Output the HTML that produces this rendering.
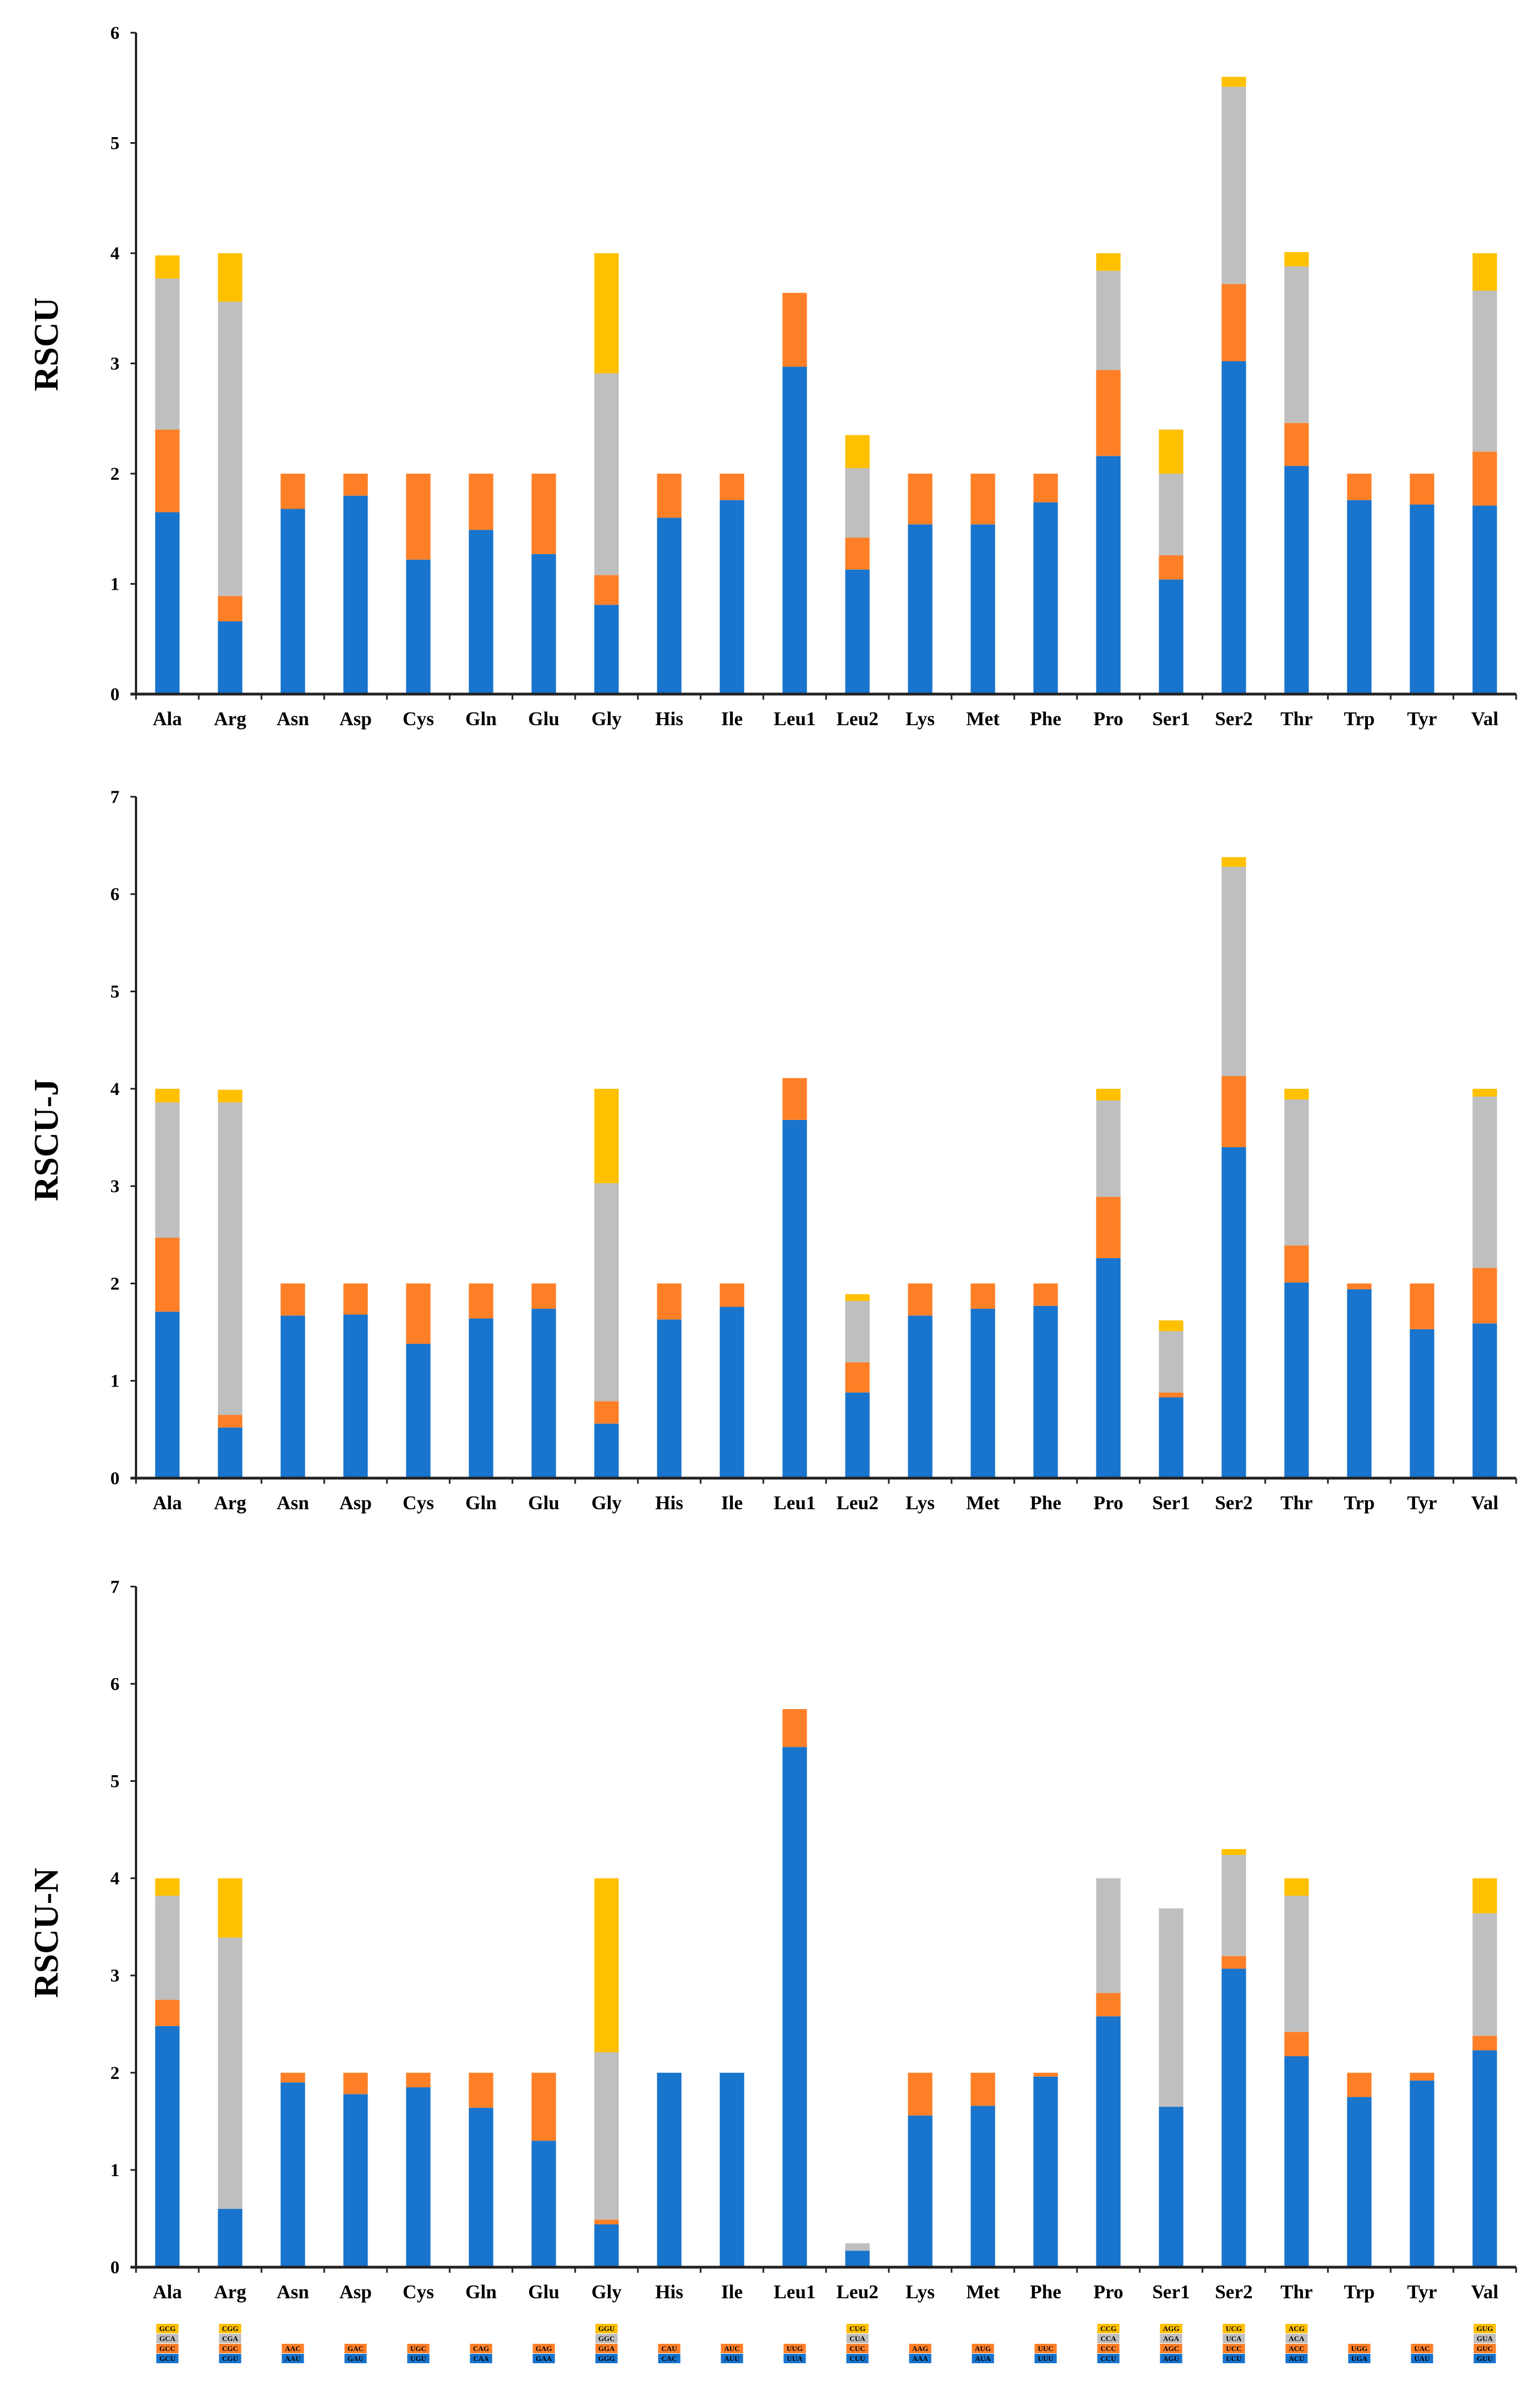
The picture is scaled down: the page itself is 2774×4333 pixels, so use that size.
<!DOCTYPE html>
<html><head><meta charset="utf-8"><style>
html,body{margin:0;padding:0;background:#fff;}
svg{display:block;}
text{font-family:"Liberation Serif",serif;font-weight:bold;fill:#000;}
</style></head><body>
<svg id="chart" xmlns="http://www.w3.org/2000/svg" width="2774" height="4333" viewBox="0 0 2774 4333"></svg>
<script>
const categories=["Ala","Arg","Asn","Asp","Cys","Gln","Glu","Gly","His","Ile","Leu1","Leu2","Lys","Met","Phe","Pro","Ser1","Ser2","Thr","Trp","Tyr","Val"];
// Panel 1: RSCU (segment values)
const p1Blue=[1.65,0.66,1.68,1.80,1.22,1.49,1.27,0.81,1.60,1.76,2.97,1.13,1.54,1.54,1.74,2.16,1.04,3.02,2.07,1.76,1.72,1.71];
const p1Orange=[0.75,0.23,0.32,0.20,0.78,0.51,0.73,0.27,0.40,0.24,0.67,0.29,0.46,0.46,0.26,0.78,0.22,0.70,0.39,0.24,0.28,0.49];
const p1Gray=[1.37,2.67,0,0,0,0,0,1.83,0,0,0,0.63,0,0,0,0.90,0.74,1.79,1.42,0,0,1.46];
const p1Yellow=[0.21,0.44,0,0,0,0,0,1.09,0,0,0,0.30,0,0,0,0.16,0.40,0.09,0.13,0,0,0.34];
// Panel 2: RSCU-J
const p2Blue=[1.71,0.52,1.67,1.68,1.38,1.64,1.74,0.56,1.63,1.76,3.68,0.88,1.67,1.74,1.77,2.26,0.83,3.40,2.01,1.94,1.53,1.59];
const p2Orange=[0.76,0.13,0.33,0.32,0.62,0.36,0.26,0.23,0.37,0.24,0.43,0.31,0.33,0.26,0.23,0.63,0.05,0.73,0.38,0.06,0.47,0.57];
const p2Gray=[1.39,3.21,0,0,0,0,0,2.24,0,0,0,0.63,0,0,0,0.99,0.63,2.15,1.50,0,0,1.76];
const p2Yellow=[0.14,0.13,0,0,0,0,0,0.97,0,0,0,0.07,0,0,0,0.12,0.11,0.10,0.11,0,0,0.08];
// Panel 3: RSCU-N
const p3Blue=[2.48,0.60,1.90,1.78,1.85,1.64,1.30,0.44,2.00,2.00,5.35,0.17,1.56,1.66,1.96,2.58,1.65,3.07,2.17,1.75,1.92,2.23];
const p3Orange=[0.27,0,0.10,0.22,0.15,0.36,0.70,0.05,0,0,0.39,0,0.44,0.34,0.04,0.24,0,0.13,0.25,0.25,0.08,0.15];
const p3Gray=[1.07,2.79,0,0,0,0,0,1.72,0,0,0,0.075,0,0,0,1.18,2.04,1.04,1.40,0,0,1.26];
const p3Yellow=[0.18,0.61,0,0,0,0,0,1.79,0,0,0,0,0,0,0,0,0,0.06,0.18,0,0,0.36];
const ticks1=["0","1","2","3","4","5","6"];
const ticks2=["0","1","2","3","4","5","6","7"];
const codons=[["GCU","GCC","GCA","GCG"],["CGU","CGC","CGA","CGG"],["AAU","AAC"],["GAU","GAC"],["UGU","UGC"],["CAA","CAG"],["GAA","GAG"],["GGG","GGA","GGC","GGU"],["CAC","CAU"],["AUU","AUC"],["UUA","UUG"],["CUU","CUC","CUA","CUG"],["AAA","AAG"],["AUA","AUG"],["UUU","UUC"],["CCU","CCC","CCA","CCG"],["AGU","AGC","AGA","AGG"],["UCU","UCC","UCA","UCG"],["ACU","ACC","ACA","ACG"],["UGA","UGG"],["UAU","UAC"],["GUU","GUC","GUA","GUG"]];

const NS="http://www.w3.org/2000/svg";
const svg=document.getElementById("chart");
const colors=["#1874CD","#FF7F27","#BFBFBF","#FFC000"];
const segNames=["blue","orange","gray","yellow"];
function mk(tag,attrs,parent){const e=document.createElementNS(NS,tag);for(const k in attrs)e.setAttribute(k,attrs[k]);(parent||svg).appendChild(e);return e;}

const X0=245, CW=113, BW=44;
function xCenter(i){return X0+CW*(i+0.5);}

function panel(id,title,titleY,zeroY,unit,ticks,series){
  const g=mk("g",{});
  
  
  const yScale=v=>zeroY-v*unit;
  const topV=ticks.length-1;
  // bars
  categories.forEach((c,i)=>{
    let cum=0;
    series.forEach((arr,s)=>{
      const v=arr[i]; if(v<=0) return;
      const r=mk("rect",{x:xCenter(i)-BW/2,y:yScale(cum+v),width:BW,height:v*unit,fill:colors[s]},g);
      
      
      cum+=v;
    });
  });
  // axes
  const ya=mk("line",{x1:X0,y1:yScale(topV),x2:X0,y2:zeroY+2,stroke:"#222","stroke-width":4},g);
  
  
  const xa=mk("line",{x1:X0-10,y1:zeroY,x2:X0+CW*categories.length,y2:zeroY,stroke:"#222","stroke-width":5},g);
  
  
  ticks.forEach((t,k)=>{
    const y=yScale(k);
    mk("line",{x1:X0-10,y1:y,x2:X0,y2:y,stroke:"#222","stroke-width":3},g);
    const tx=mk("text",{x:207,y:y+11,"font-size":33,"text-anchor":"middle"},g);
    tx.textContent=t;
    
    
  });
  for(let i=0;i<=categories.length;i++){
    mk("line",{x1:X0+CW*i,y1:zeroY,x2:X0+CW*i,y2:zeroY+10,stroke:"#222","stroke-width":3},g);
  }
  categories.forEach((c,i)=>{
    const t=mk("text",{x:xCenter(i),y:zeroY+56,"font-size":35,"text-anchor":"middle"},g);
    t.textContent=c;
    
    
  });
  const tt=mk("text",{x:0,y:0,"font-size":62,"text-anchor":"middle",transform:`translate(104,${titleY}) rotate(-90)`},g);
  tt.textContent=title;
  
  
}

panel("rscu","RSCU",620,1250,198.5,ticks1,[p1Blue,p1Orange,p1Gray,p1Yellow]);
panel("rscu-j","RSCU-J",2053,2662,175.3,ticks2,[p2Blue,p2Orange,p2Gray,p2Yellow]);
panel("rscu-n","RSCU-N",3481,4083,175.1,ticks2,[p3Blue,p3Orange,p3Gray,p3Yellow]);

// codon legend
const rowBottom=4257, BH=18;
codons.forEach((list,i)=>{
  list.forEach((cd,s)=>{
    const y=rowBottom-(s+1)*BH;
    const r=mk("rect",{x:xCenter(i)-20,y:y,width:40,height:BH-1,fill:colors[s]});
    
    
    const t=mk("text",{x:xCenter(i),y:y+13,"font-size":13,"text-anchor":"middle","font-weight":"normal"});
    t.textContent=cd;
    
    
  });
});
</script>
</body></html>
